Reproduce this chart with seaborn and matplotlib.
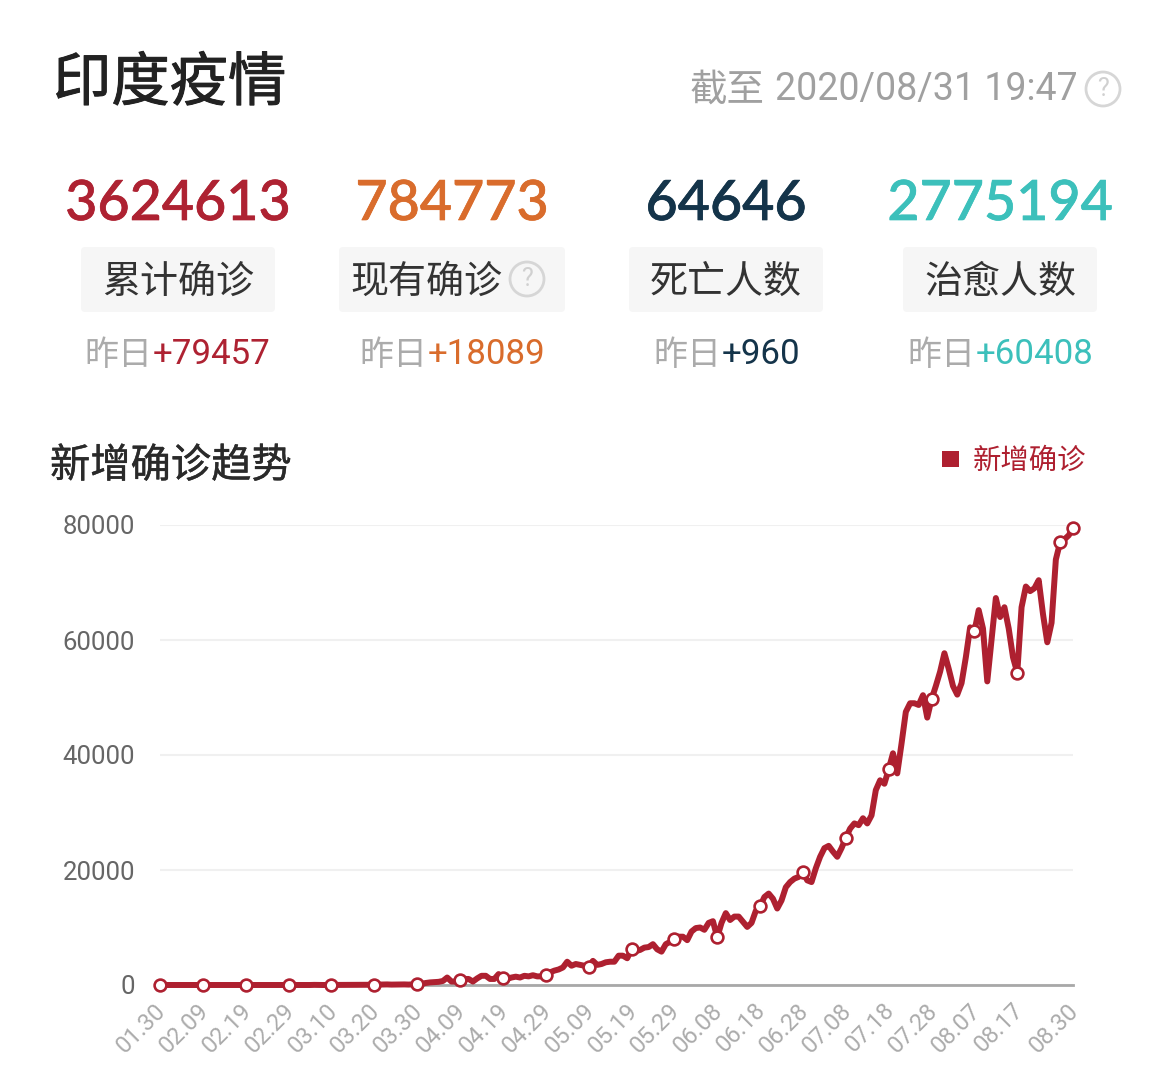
import matplotlib
matplotlib.use('Agg')
import matplotlib.pyplot as plt
import matplotlib.patheffects as pe
from matplotlib.patches import Circle, FancyBboxPatch, Rectangle
from matplotlib.transforms import ScaledTranslation
import numpy as np
import pandas as pd
import seaborn as sns

# daily new confirmed cases, 01.30 to 08.30
new_cases = [
    1, 0, 1, 1, 0, 0, 0, 0, 0, 0,
    0, 0, 0, 0, 0, 0, 0, 0, 0, 0,
    0, 0, 0, 0, 0, 0, 0, 0, 0, 0,
    0, 1, 0, 0, 2, 1, 22, 2, 1, 3,
    5, 4, 13, 6, 11, 10, 11, 23, 14, 41,
    56, 65, 80, 100, 70, 80, 90, 100, 75, 110,
    150, 200, 350, 450, 500, 550, 700, 1300, 600, 600,
    850, 1050, 1050, 600, 1150, 1600, 1600, 1050, 1050, 1900,
    1300, 1050, 1300, 1450, 1300, 1600, 1500, 1700, 1500, 1500,
    1750, 2200, 2500, 2700, 3050, 4050, 3350, 3650, 3500, 3350,
    3200, 4200, 3500, 3650, 3950, 4050, 4050, 5100, 5100, 4650,
    6200, 5900, 6100, 6500, 6600, 7100, 6200, 5800, 7100, 7500,
    8000, 8400, 8400, 7800, 9300, 9900, 10000, 9600, 10800, 11100,
    8300, 10800, 12500, 11300, 11900, 11900, 11000, 10100, 10800, 12900,
    13700, 15300, 15900, 15000, 13300, 14700, 17000, 17900, 18500, 18800,
    19600, 18200, 17900, 20300, 22300, 23800, 24200, 23200, 22300, 23800,
    25600, 27200, 28100, 27800, 29000, 28100, 29500, 33900, 35600, 35000,
    37500, 40300, 36800, 42000, 47500, 49000, 49000, 48700, 50400, 46500,
    49700, 52000, 54500, 57700, 55000, 52000, 50500, 52500, 57000, 62200,
    61500, 65200, 62000, 52800, 60000, 67300, 64000, 65700, 62000, 57000,
    54300, 65700, 69300, 68500, 69000, 70400, 64500, 59600, 63000, 74000,
    77000, 77500, 78200, 79457,
]
marked_days = [0, 10, 20, 30, 40, 50, 60, 70, 80, 90, 100, 110, 120, 130, 140,
               150, 160, 170, 180, 190, 200, 210, 213]
tick_days = [0, 10, 20, 30, 40, 50, 60, 70, 80, 90, 100, 110, 120, 130, 140,
             150, 160, 170, 180, 190, 200, 213]
tick_labels = ['01.30', '02.09', '02.19', '02.29', '03.10', '03.20', '03.30', '04.09',
               '04.19', '04.29', '05.09', '05.19', '05.29', '06.08', '06.18', '06.28',
               '07.08', '07.18', '07.28', '08.07', '08.17', '08.30']
y_ticks = [0, 20000, 40000, 60000, 80000]

# summary cards
card_totals = ['3624613', '784773', '64646', '2775194']
card_names = ['累计确诊', '现有确诊', '死亡人数', '治愈人数']
card_deltas = ['+79457', '+18089', '+960', '+60408']
card_colors = ['#ae2232', '#d96c2c', '#14344a', '#3cc0bb']
card_centers = [178, 452, 726, 1000]
card_boxes = [(81, 275), (339, 565), (629, 823), (903, 1097)]
delta_splits = [152, 427, 721, 975]

RED = '#ae2030'
CJK = ['Noto Sans CJK SC', 'DejaVu Sans']

sns.set_theme(style='white')
plt.rcParams['font.family'] = CJK

W, H = 1175, 1080
fig = plt.figure(figsize=(W / 100, H / 100), dpi=100, facecolor='white')

# overlay in pixel coordinates for the header part
page = fig.add_axes([0, 0, 1, 1])
page.set_xlim(0, W)
page.set_ylim(H, 0)
page.axis('off')


def help_icon(x, y, r, size):
    page.add_patch(Circle((x, y), r, fill=False, ec='#d6d6d6', lw=2))
    page.text(x, y, '?', fontsize=size, color='#d0d0d0', ha='center', va='center', family='Roboto')


def heavier(txt, width):
    # the installed weights are too light or too bold, thicken the regular one a bit
    txt.set_path_effects([pe.withStroke(linewidth=width, foreground=txt.get_color())])


heavier(page.text(53, 84, '印度疫情', fontsize=42, color='#222222', ha='left', va='center', family=CJK), 0.7)
page.text(690, 90, '截至', fontsize=27, color='#a0a0a0', ha='left', va='center', family=CJK)
page.text(775, 90, '2020/08/31 19:47', fontsize=27, color='#a0a0a0', ha='left', va='center', family='Roboto')
help_icon(1103, 89, 17, 18)

for i in range(4):
    cx = card_centers[i]
    x0, x1 = card_boxes[i]
    page.add_patch(FancyBboxPatch((x0 + 4, 251), x1 - x0 - 8, 57, boxstyle='round,pad=4,rounding_size=4',
                                  fc='#f6f6f6', ec='none'))
    heavier(page.text(cx, 204.5, card_totals[i], fontsize=40, color=card_colors[i], ha='center', va='center',
                      family='Lato', weight='medium'), 0.5)
    name_x = (x0 + x1) / 2 if i != 1 else 426
    page.text(name_x, 282, card_names[i], fontsize=27.4, color='#333333', ha='center', va='center', family=CJK)
    page.text(delta_splits[i], 355, '昨日', fontsize=24.5, color='#ababab', ha='right', va='center', family=CJK)
    page.text(delta_splits[i] + 1, 355, card_deltas[i], fontsize=25.1, color=card_colors[i], ha='left',
              va='center', family='Roboto')
help_icon(527, 279, 17, 18)

heavier(page.text(50, 466, '新增确诊趋势', fontsize=29, color='#2a2a2a', ha='left', va='center', family=CJK), 0.3)
page.add_patch(Rectangle((942, 451), 17, 16, fc=RED, ec='none'))
page.text(973, 461, '新增确诊', fontsize=20.4, color=RED, ha='left', va='center', family=CJK)

# chart axes
ax = fig.add_axes([160 / W, 1 - 985 / H, (1073 - 160) / W, (985 - 525) / H])
ax.patch.set_alpha(0)

days = np.arange(len(new_cases))
df = pd.DataFrame({'day': days, 'cases': new_cases})
dots = df[df['day'].isin(marked_days)]

sns.lineplot(data=df, x='day', y='cases', ax=ax, color=RED, linewidth=4.3, clip_on=False,
             solid_joinstyle='round', solid_capstyle='round', zorder=3)
sns.scatterplot(data=dots, x='day', y='cases', ax=ax, s=72, color='white', edgecolor=RED,
                linewidth=1.9, clip_on=False, zorder=4)

ax.set_xlim(0, 213)
ax.set_ylim(0, 80000)
ax.set_xlabel('')
ax.set_ylabel('')
ax.set_yticks(y_ticks)
ax.set_xticks(tick_days)
ax.set_xticklabels(tick_labels, rotation=45, ha='right', va='top', rotation_mode='anchor',
                   fontsize=17, color='#ababab', family='Roboto')
ax.tick_params(axis='x', length=0, pad=10)
ax.tick_params(axis='y', length=0, pad=18, labelsize=18.5, labelcolor='#666666')
for lab in ax.get_yticklabels():
    lab.set_family('Roboto')
shift = ScaledTranslation(-6 / 100, 0, fig.dpi_scale_trans)
for lab in ax.get_xticklabels():
    lab.set_transform(lab.get_transform() + shift)
ax.grid(axis='y', color='#f0f0f0', linewidth=1.5)
ax.set_axisbelow(True)
sns.despine(ax=ax, left=True, top=True, right=True)
ax.spines['bottom'].set_color('#a8a8a8')
ax.spines['bottom'].set_linewidth(2)

fig.savefig('out.png', dpi=100, facecolor='white')
